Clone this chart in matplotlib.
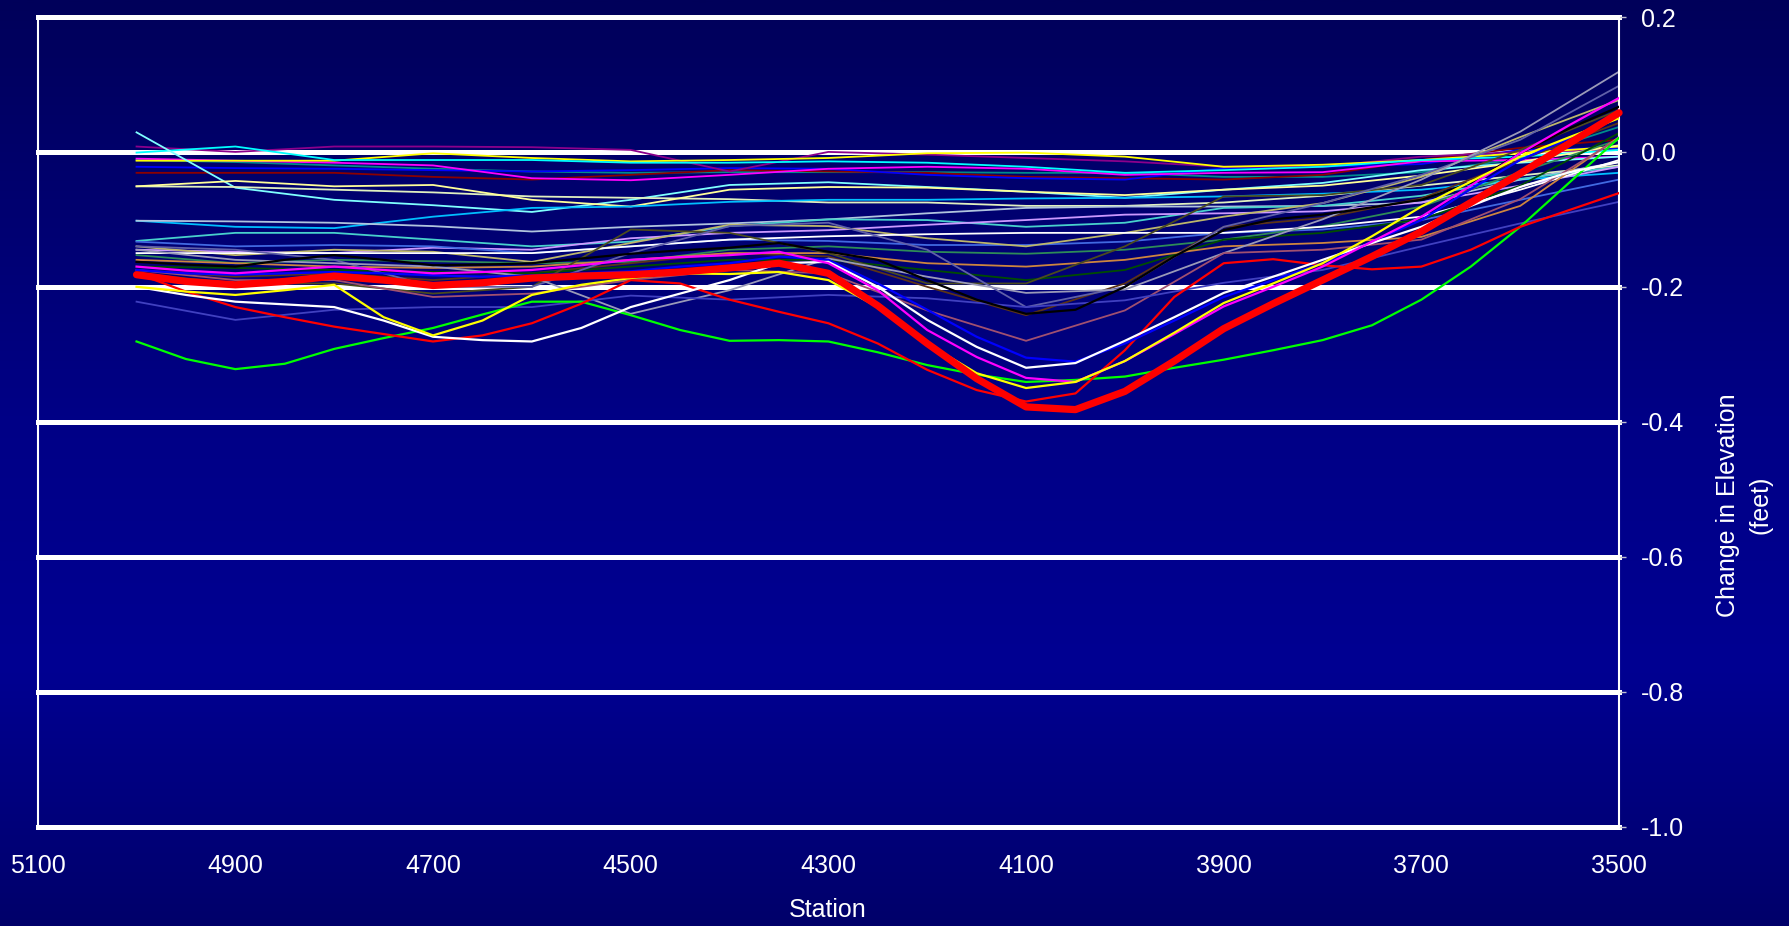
import numpy as np
import matplotlib
matplotlib.use("Agg")
import matplotlib.pyplot as plt
from matplotlib.colors import LinearSegmentedColormap

plt.rcParams['font.family'] = ['Liberation Sans', 'DejaVu Sans']
plt.rcParams['axes.unicode_minus'] = False

# ---- stations -------------------------------------------------------------
station_fine = list(range(5000, 3499, -50))     # 31 stations, 50 ft apart
station_coarse = list(range(5000, 3499, -100))  # 16 stations, 100 ft apart

# ---- profiles sampled every 50 ft -----------------------------------------
avg_red = [-0.182, -0.192, -0.197, -0.192, -0.184, -0.190, -0.198, -0.194, -0.187, -0.184,
           -0.182, -0.178, -0.172, -0.165, -0.180, -0.228, -0.284, -0.336, -0.378, -0.382,
           -0.355, -0.310, -0.262, -0.225, -0.190, -0.155, -0.118, -0.075, -0.032, 0.013, 0.058]
red_thin = [-0.180, -0.207, -0.230, -0.245, -0.259, -0.270, -0.281, -0.272, -0.254, -0.225,
            -0.190, -0.195, -0.219, -0.237, -0.254, -0.284, -0.323, -0.353, -0.370, -0.358,
            -0.294, -0.215, -0.165, -0.159, -0.168, -0.174, -0.170, -0.145, -0.111, -0.086, -0.061]
yellow_main = [-0.200, -0.207, -0.212, -0.205, -0.197, -0.245, -0.272, -0.250, -0.212, -0.197,
               -0.187, -0.180, -0.181, -0.178, -0.190, -0.230, -0.284, -0.328, -0.350, -0.341,
               -0.310, -0.268, -0.224, -0.195, -0.165, -0.125, -0.081, -0.044, -0.007, 0.022, 0.050]
magenta_main = [-0.170, -0.176, -0.180, -0.175, -0.170, -0.175, -0.180, -0.178, -0.175, -0.168,
                -0.160, -0.156, -0.153, -0.148, -0.165, -0.205, -0.264, -0.304, -0.335, -0.341,
                -0.310, -0.270, -0.229, -0.200, -0.170, -0.133, -0.096, -0.050, -0.002, 0.040, 0.080]
white_main = [-0.200, -0.212, -0.222, -0.226, -0.230, -0.250, -0.274, -0.279, -0.281, -0.261,
              -0.230, -0.210, -0.190, -0.165, -0.163, -0.200, -0.249, -0.289, -0.320, -0.313,
              -0.280, -0.245, -0.209, -0.185, -0.160, -0.135, -0.111, -0.080, -0.052, -0.030, -0.015]
blue_main = [-0.175, -0.180, -0.182, -0.180, -0.178, -0.180, -0.183, -0.185, -0.183, -0.180,
             -0.177, -0.170, -0.165, -0.155, -0.160, -0.195, -0.234, -0.274, -0.305, -0.311,
             -0.284, -0.250, -0.215, -0.190, -0.165, -0.133, -0.101, -0.055, -0.012, 0.020, 0.052]
green_main = [-0.281, -0.307, -0.322, -0.314, -0.292, -0.276, -0.261, -0.241, -0.222, -0.222,
              -0.242, -0.264, -0.280, -0.279, -0.281, -0.297, -0.316, -0.330, -0.341, -0.338,
              -0.333, -0.320, -0.308, -0.294, -0.279, -0.257, -0.219, -0.170, -0.111, -0.045, 0.021]
black_main = [-0.163, -0.167, -0.170, -0.160, -0.153, -0.160, -0.168, -0.167, -0.165, -0.158,
              -0.151, -0.146, -0.142, -0.135, -0.148, -0.160, -0.190, -0.219, -0.240, -0.234,
              -0.200, -0.155, -0.116, -0.100, -0.093, -0.082, -0.071, -0.046, -0.002, 0.035, 0.067]

# ---- profiles sampled every 100 ft ----------------------------------------
slate_blue = [-0.222, -0.249, -0.234, -0.230, -0.230, -0.213, -0.219, -0.212, -0.217, -0.230,
              -0.220, -0.194, -0.175, -0.140, -0.106, -0.074]
rosy = [-0.175, -0.190, -0.190, -0.215, -0.210, -0.190, -0.175, -0.180, -0.235, -0.280,
        -0.235, -0.150, -0.145, -0.130, -0.070, 0.020]
gray_lav = [-0.145, -0.160, -0.165, -0.170, -0.185, -0.240, -0.205, -0.158, -0.185, -0.209,
            -0.204, -0.150, -0.100, -0.041, 0.030, 0.119]
dark_slate = [-0.140, -0.145, -0.160, -0.200, -0.200, -0.150, -0.110, -0.105, -0.145, -0.230,
              -0.200, -0.111, -0.076, -0.034, 0.018, 0.098]
dark_olive = [-0.180, -0.195, -0.195, -0.210, -0.200, -0.115, -0.120, -0.150, -0.195, -0.195,
              -0.140, -0.066, -0.064, -0.049, 0.003, 0.062]
peru = [-0.160, -0.165, -0.170, -0.172, -0.170, -0.160, -0.150, -0.150, -0.165, -0.170,
        -0.160, -0.140, -0.135, -0.126, -0.080, 0.022]
dark_green = [-0.170, -0.172, -0.175, -0.178, -0.180, -0.170, -0.160, -0.160, -0.175, -0.190,
              -0.175, -0.130, -0.120, -0.100, -0.050, 0.028]
dark_brown = [-0.175, -0.185, -0.180, -0.190, -0.180, -0.165, -0.150, -0.155, -0.200, -0.242,
              -0.195, -0.111, -0.098, -0.069, -0.012, 0.043]
white_flat = [-0.150, -0.150, -0.150, -0.150, -0.150, -0.140, -0.130, -0.125, -0.122, -0.120,
              -0.120, -0.120, -0.111, -0.096, -0.056, -0.012]
sea_green = [-0.153, -0.165, -0.160, -0.162, -0.165, -0.163, -0.145, -0.140, -0.148, -0.151,
             -0.145, -0.130, -0.110, -0.081, -0.030, 0.018]
khaki = [-0.140, -0.153, -0.145, -0.148, -0.163, -0.135, -0.108, -0.110, -0.128, -0.140,
         -0.120, -0.096, -0.076, -0.037, 0.022, 0.077]
royal_blue = [-0.133, -0.140, -0.138, -0.140, -0.150, -0.140, -0.130, -0.132, -0.138, -0.138,
              -0.133, -0.120, -0.115, -0.101, -0.071, -0.041]
lavender = [-0.145, -0.148, -0.150, -0.142, -0.145, -0.128, -0.120, -0.116, -0.108, -0.101,
            -0.093, -0.091, -0.088, -0.075, -0.050, -0.022]
turquoise = [-0.132, -0.120, -0.120, -0.130, -0.140, -0.133, -0.110, -0.100, -0.101, -0.111,
             -0.105, -0.083, -0.080, -0.065, -0.040, -0.022]
steel_blue = [-0.102, -0.103, -0.105, -0.110, -0.118, -0.111, -0.106, -0.100, -0.091, -0.083,
              -0.081, -0.081, -0.080, -0.075, -0.041, -0.015]
sky_blue = [-0.102, -0.111, -0.113, -0.096, -0.083, -0.081, -0.074, -0.071, -0.071, -0.069,
            -0.068, -0.066, -0.062, -0.056, -0.041, -0.031]
pale_yellow = [-0.051, -0.043, -0.051, -0.049, -0.071, -0.081, -0.056, -0.052, -0.053, -0.059,
               -0.064, -0.056, -0.050, -0.035, -0.015, 0.010]
pale_green = [-0.051, -0.052, -0.056, -0.060, -0.066, -0.068, -0.070, -0.075, -0.075, -0.080,
              -0.080, -0.075, -0.065, -0.050, -0.035, -0.020]
pale_cyan = [0.029, -0.053, -0.071, -0.079, -0.089, -0.071, -0.049, -0.045, -0.052, -0.059,
             -0.068, -0.056, -0.046, -0.027, -0.016, -0.007]
cyan_top = [-0.001, 0.008, -0.012, -0.012, -0.012, -0.016, -0.016, -0.014, -0.016, -0.022,
            -0.031, -0.027, -0.022, -0.012, -0.007, 0.003]
yellow_top = [-0.013, -0.013, -0.013, -0.002, -0.009, -0.014, -0.012, -0.009, -0.002, -0.001,
              -0.007, -0.022, -0.019, -0.012, -0.002, 0.008]
purple_top = [0.008, 0.000, 0.008, 0.008, 0.007, 0.003, -0.029, 0.000, -0.004, -0.009,
              -0.014, -0.022, -0.022, -0.007, 0.000, 0.003]
magenta_top = [-0.010, -0.013, -0.016, -0.020, -0.039, -0.042, -0.034, -0.025, -0.022, -0.025,
               -0.034, -0.031, -0.030, -0.014, -0.012, -0.007]
blue_top = [-0.022, -0.024, -0.025, -0.027, -0.029, -0.027, -0.024, -0.025, -0.034, -0.039,
            -0.041, -0.024, -0.022, -0.018, 0.003, 0.006]
maroon_top = [-0.031, -0.031, -0.031, -0.037, -0.041, -0.034, -0.027, -0.029, -0.031, -0.037,
              -0.039, -0.041, -0.034, -0.012, 0.006, 0.018]
teal_top = [-0.012, -0.015, -0.020, -0.025, -0.029, -0.031, -0.030, -0.030, -0.030, -0.031,
            -0.031, -0.037, -0.037, -0.030, -0.010, 0.037]

x_ticks = [5100, 4900, 4700, 4500, 4300, 4100, 3900, 3700, 3500]
y_ticks = [0.2, 0.0, -0.2, -0.4, -0.6, -0.8, -1.0]

# ---- figure and gradient backdrop ------------------------------------------
fig = plt.figure(figsize=(17.9, 9.26), dpi=100)
bg = fig.add_axes([0, 0, 1, 1], zorder=-10)
bg_cmap = LinearSegmentedColormap.from_list(
    "backdrop", [(0.0, "#00005a"), (0.45, "#000086"), (0.72, "#000092"), (1.0, "#00006a")])
bg.imshow(np.linspace(0, 1, 512).reshape(-1, 1), aspect="auto", cmap=bg_cmap,
          extent=[0, 1, 0, 1], origin="upper")
bg.set_axis_off()

ax = fig.add_axes([0.02106, 0.10745, 0.88344, 0.87419])
ax.set_facecolor("none")
ax.set_xlim(5100, 3500)
ax.set_ylim(-1.0, 0.2)

# horizontal reference lines
for yv in y_ticks:
    ax.axhline(yv, color="white", lw=3.6, zorder=1, clip_on=False)

thin = 1.3
background = [
    (teal_top, "#008b8b"), (maroon_top, "#8b0000"), (blue_top, "#0000ff"),
    (magenta_top, "#ff00ff"), (purple_top, "#8b008b"), (yellow_top, "#ffff00"),
    (cyan_top, "#00ffff"), (pale_cyan, "#7fffff"), (pale_green, "#e0f0c0"),
    (pale_yellow, "#ffff99"), (sky_blue, "#00bfff"), (steel_blue, "#b0c4de"),
    (turquoise, "#48d1cc"), (lavender, "#cc99ff"), (royal_blue, "#4169e1"),
    (khaki, "#bdb76b"), (sea_green, "#2e8b57"), (white_flat, "#ffffff"),
    (dark_brown, "#5c3317"), (dark_green, "#004d00"), (peru, "#cd853f"),
    (dark_olive, "#4b4b1e"), (dark_slate, "#6060a8"), (gray_lav, "#9a9ab8"),
    (rosy, "#a05070"), (slate_blue, "#4040c0"),
]
for series, col in background:
    ax.plot(station_coarse, series, color=col, lw=thin, zorder=2)

valley = [
    (black_main, "#000000"), (green_main, "#00ff00"), (red_thin, "#ff0000"),
    (blue_main, "#0000ff"), (white_main, "#ffffff"), (magenta_main, "#ff00ff"),
    (yellow_main, "#ffff00"),
]
for series, col in valley:
    ax.plot(station_fine, series, color=col, lw=1.6, zorder=3)

ax.plot(station_fine, avg_red, color="#ff0000", lw=5.2, zorder=4,
        solid_capstyle="round", clip_on=False)

# axes styling
for side in ("top", "bottom"):
    ax.spines[side].set_visible(False)
for side in ("left", "right"):
    ax.spines[side].set_color("white")
    ax.spines[side].set_linewidth(1.5)

ax.set_xticks(x_ticks)
ax.set_xticklabels([str(v) for v in x_ticks])
ax.set_yticks(y_ticks)
ax.set_yticklabels([f"{v:.1f}" for v in y_ticks])
ax.yaxis.tick_right()
ax.tick_params(axis="x", length=0, pad=20, labelsize=18, labelcolor="white")
ax.tick_params(axis="y", length=5, width=1, color="#c0c0d0", pad=11,
               labelsize=18, labelcolor="white")

fig.text(0.4626, 0.0173, "Station", color="white", fontsize=18,
         ha="center", va="center")
fig.text(0.9745, 0.4546, "Change in Elevation\n(feet)", color="white", fontsize=18,
         rotation=90, ha="center", va="center", multialignment="center",
         linespacing=1.45)

fig.savefig("out.png", dpi=100)
